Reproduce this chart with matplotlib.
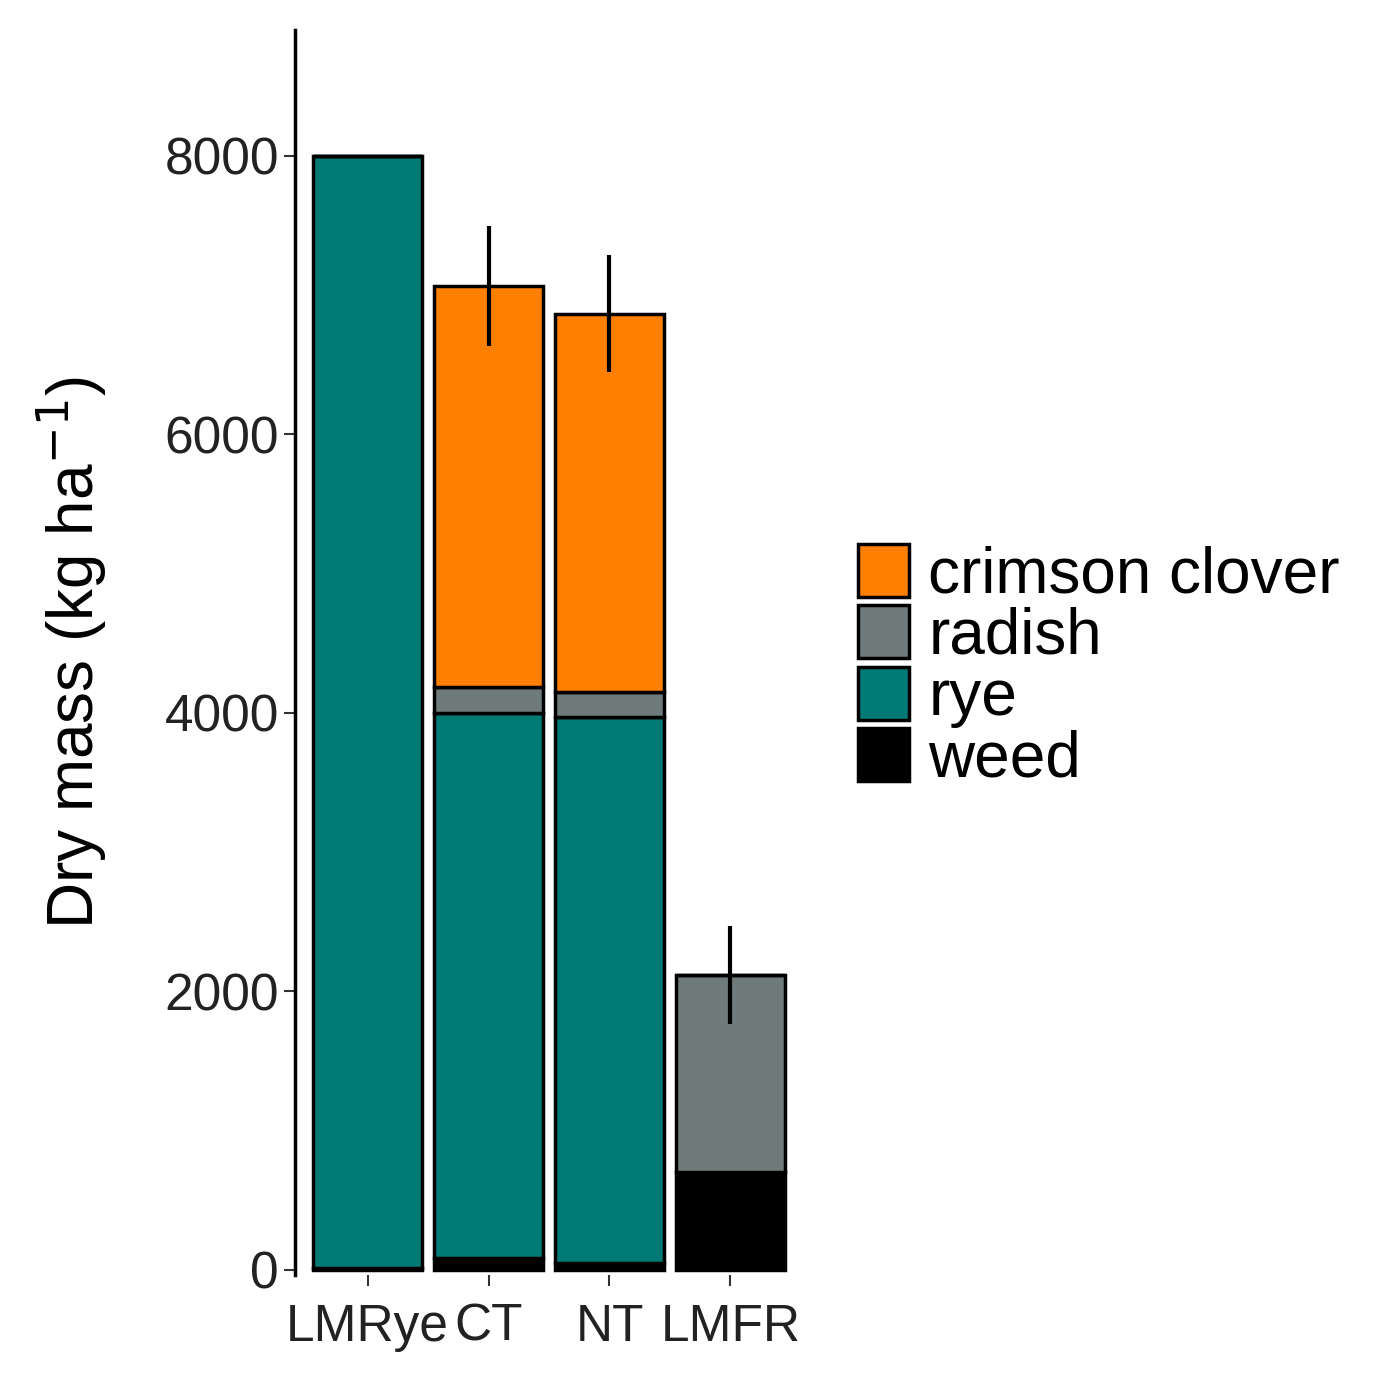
import numpy as np
import matplotlib.pyplot as plt
from matplotlib.patches import Patch

plt.rcParams["font.family"] = ["Liberation Sans", "DejaVu Sans"]

categories = ["LMRye", "CT", "NT", "LMFR"]
weed = [10, 86, 50, 703]
rye = [7990, 3910, 3917, 0]
radish = [0, 186, 179, 1413]
clover = [0, 2884, 2719, 0]
err = [0, 430, 420, 350]

species = ["crimson clover", "radish", "rye", "weed"]
colors = {"crimson clover": "#FF7F00", "radish": "#6E7B7A",
          "rye": "#007A74", "weed": "#000000"}

fig = plt.figure(figsize=(13.83, 13.86), dpi=100)
ax = fig.add_axes([0.2133, 0.080, 0.3673, 0.898])

x = np.arange(1, len(categories) + 1)
bottom = np.zeros(len(categories))
for name, vals in [("weed", weed), ("rye", rye), ("radish", radish), ("crimson clover", clover)]:
    v = np.array(vals, dtype=float)
    ax.bar(x, v, width=0.9, bottom=bottom, color=colors[name],
           edgecolor="black", linewidth=2.5, zorder=2)
    bottom += v

total = bottom
mask = np.array(err) > 0
ax.errorbar(x[mask], total[mask], yerr=np.array(err)[mask], fmt="none",
            ecolor="black", elinewidth=3, capsize=0, zorder=3)

ax.set_xlim(0.4, 4.6)
ax.set_ylim(-40, 8900)
ax.set_xticks(x)
ax.set_xticklabels(categories)
ax.set_yticks([0, 2000, 4000, 6000, 8000])
ax.tick_params(axis="both", labelsize=37, colors="#333333", length=8, width=1.5,
               labelcolor="#222222")
ax.tick_params(axis="x", pad=12)
for s in ["top", "right", "bottom"]:
    ax.spines[s].set_visible(False)
ax.spines["left"].set_linewidth(2.5)
ax.spines["left"].set_color("black")
ax.set_ylabel("Dry mass (kg ha$^{-1}$)", fontsize=46, labelpad=40)

handles = [Patch(facecolor=colors[s], edgecolor="black", linewidth=2.5, label=s) for s in species]
fig.legend(handles=handles, loc="center left", bbox_to_anchor=(0.602, 0.519),
           frameon=False, fontsize=46, handlelength=0.8, handleheight=0.9,
           labelspacing=0.0, handletextpad=0.3, borderaxespad=0)

fig.savefig("out.png", dpi=100)
